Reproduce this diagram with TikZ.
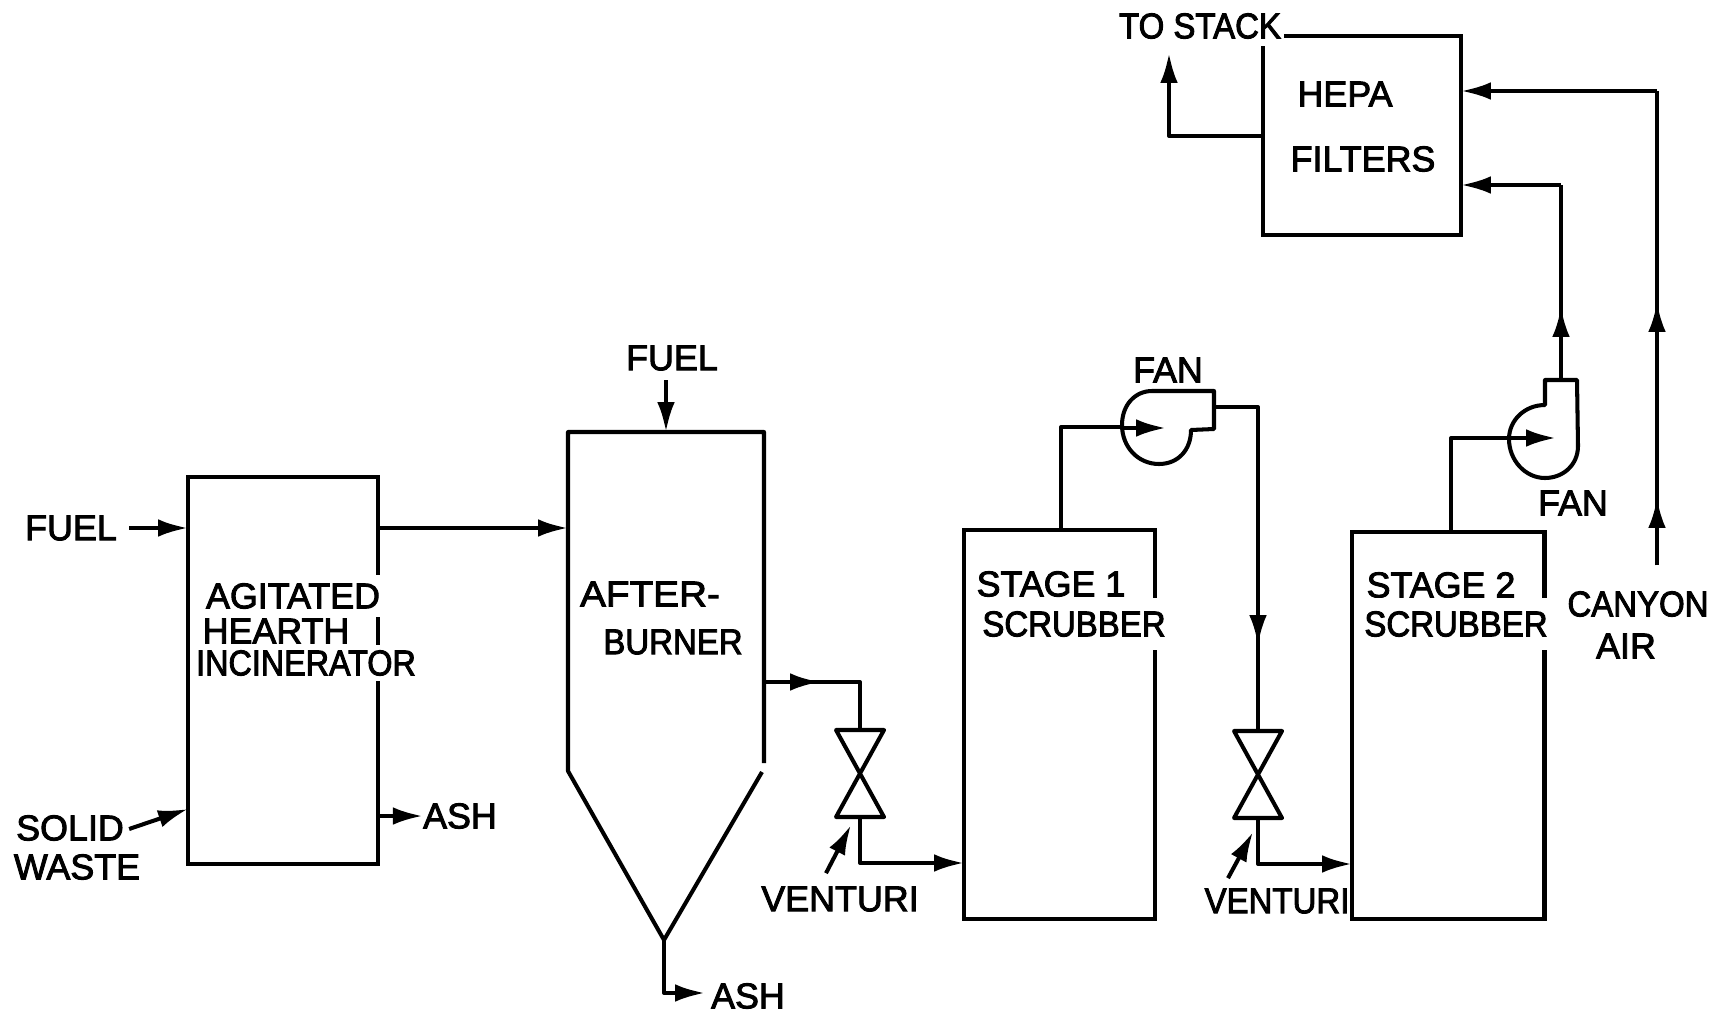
\documentclass[tikz,border=0pt]{standalone}
\usepackage{fontspec}
\setmainfont{Liberation Sans}[FakeBold=2.5]
\newfontfamily\narrowfont{Liberation Sans}[FakeBold=2.5,FakeStretch=0.92]
\newfontfamily\widefont{Liberation Sans}[FakeBold=2.5,FakeStretch=1.08]
\usetikzlibrary{arrows.meta}
\tikzset{
  line/.style={line width=2.3pt,line join=round},
  flow/.style={line,-{Latex[length=17pt,width=10pt]}},
  unit/.style={draw,line width=2.3pt,inner sep=0pt,outer sep=0pt,anchor=north west},
  lbl/.style={font=\fontsize{20.4}{22}\selectfont,inner sep=0pt},
  narrowlbl/.style={font=\fontsize{20.4}{22}\narrowfont,inner sep=0pt},
  gaplbl/.style={narrowlbl,fill=white,inner xsep=1.5pt,inner ysep=7.4pt}
}
\begin{document}
\begin{tikzpicture}[x=0.02cm,y=-0.02cm]
  \useasboundingbox (0,0) rectangle (1721,1014);
  % units
  \node[unit,minimum width=3.81cm,minimum height=7.74cm] (hearth) at (188,477) {};
  \node[unit,minimum width=3.96cm,minimum height=3.98cm] (hepa) at (1263,36) {};
  \node[unit,minimum width=3.83cm,minimum height=7.78cm] (stageA) at (964,530) {};
  \node[unit,minimum width=3.85cm,minimum height=7.74cm] (stageB) at (1352,532) {};
  \coordinate (burnerNW) at (568,432);
  \coordinate (burnerNE) at (764,432);
  \coordinate (burnerSW) at (568,771);
  \coordinate (burnerSE) at (764,763);
  \coordinate (hopperE) at (762,772);
  \coordinate (hopperEnd) at (664,940);
  \draw[line] (burnerSE) -- (burnerNE) -- (burnerNW) -- (burnerSW) -- (hopperEnd) -- (hopperE);
  % fans
  \draw[line] (1152,391) coordinate (fanA) -- (1214,391) -- (1214,429) coordinate (fanAout) -- (1191,430)
    .. controls (1191,450) and (1178,464) .. (1159,464)
    .. controls (1138,464) and (1122,447) .. (1122,425)
    .. controls (1122,405) and (1135,391) .. (1152,391) -- cycle;
  \draw[line] (1545,380) coordinate (fanBout) -- (1577,380) -- (1578,446)
    .. controls (1578,465) and (1563,478) .. (1545,478)
    .. controls (1525,478) and (1509,460) .. (1509,439)
    .. controls (1509,420) and (1525,405) .. (1545,405) -- cycle;
  % venturis
  \foreach \name/\vx/\vy in {ventA/860/730,ventB/1258/731} {
    \coordinate (\name top) at (\vx,\vy);
    \coordinate (\name bot) at (\vx,\vy+87);
    \draw[line] (\vx-24,\vy) -- (\vx+24,\vy) -- (\vx-24,\vy+87) -- (\vx+24,\vy+87) -- cycle;
  }
  % labels
  \node[lbl] (fuelA) at (71,528) {FUEL};
  \node[lbl] (fuelB) at (672,358) {FUEL};
  \node[lbl] (solid) at (70,828) {SOLID};
  \node[lbl] at (77,867) {WASTE};
  \node[lbl] (ashA) at (460,816) {ASH};
  \node[lbl] (ashB) at (748,996) {ASH};
  \node[gaplbl,inner ysep=3pt] at (306,663) {\scalebox{0.98}[1]{INCINERATOR}};
  \node[lbl,fill=white,inner xsep=1.5pt,inner ysep=4.5pt] at (293,596) {AGITATED};
  \node[lbl] at (276,631) {HEARTH};
  \node[lbl,font=\fontsize{20.4}{22}\widefont] at (650,594) {AFTER-};
  \node[narrowlbl] at (673,642) {BURNER};
  \node[lbl] (ventAlbl) at (840,899) {VENTURI};
  \node[narrowlbl] (ventBlbl) at (1277,901) {VENTURI};
  \node[lbl] at (1051,584) {STAGE 1};
  \node[gaplbl] at (1074,624) {SCRUBBER};
  \node[lbl] at (1441,585) {STAGE 2};
  \node[gaplbl] at (1456,624) {SCRUBBER};
  \node[lbl] at (1168,370) {FAN};
  \node[lbl] at (1573,503) {FAN};
  \node[lbl] at (1345,94) {HEPA};
  \node[lbl] at (1363,159) {FILTERS};
  \node[gaplbl,inner xsep=2pt,inner ysep=4pt] (stack) at (1200,26) {TO STACK};
  \node[narrowlbl] at (1638,604) {CANYON};
  \node[lbl] at (1626,646) {AIR};
  % connectors
  \draw[flow,shorten <=7pt] (fuelA.east) -- (fuelA.east -| hearth.west);
  \draw[flow] (solid.east) ++(5,1) -- (188,809);
  \draw[flow] (hearth.east |- fuelA.east) -- (fuelA.east -| burnerNW);
  \draw[flow] (hearth.east |- ashA.west) -- (ashA.west);
  \draw[flow] (666,380) coordinate (fuelBend) -- (fuelBend |- burnerNW);
  \draw[line] (hopperEnd) -- (664,993) coordinate (ashBturn) -- (680,993);
  \draw[flow] (ashBturn) -- (705,993);
  % afterburner to stage 1
  \coordinate (burnerOut) at (764,682);
  \draw[flow] (burnerOut) -- (820,682);
  \draw[line] (burnerOut) -- (ventAtop |- burnerOut) -- (ventAtop);
  \draw[flow] (ventAbot) |- (stageA.west |- 0,863);
  \draw[flow] (ventAlbl.north) ++(-14,-13) -- (851,825);
  % stage 1 to stage 2
  \draw[line] (1061,530) -- (1061,427) -- (1122,427);
  \draw[flow] (1061,428) ++(61,0) -- (1166,428);
  \draw[line] (1214,407) -- (ventBtop |- 0,407) -- (ventBtop);
  \draw[flow] (ventBtop |- 0,407) -- (ventBtop |- 0,645);
  \draw[flow] (ventBbot) |- (stageB.west |- 0,864);
  \draw[flow] (ventBlbl.north) ++(-49,-10) -- (1253,832);
  % stage 2 to filters
  \draw[line] (1451,532) -- (1451,438) -- (1509,438);
  \draw[flow] (1509,438) -- (1556,438);
  \draw[line] (1561,380) -- (1561,185);
  \draw[flow] (1561,380) -- (1561,307);
  \draw[flow] (1561,185) -- (hepa.east |- 0,185);
  % canyon air
  \coordinate (canyonIn) at (1657,565);
  \coordinate (canyonTurn) at (1657,91);
  \draw[flow] (canyonIn) -- (1657,498);
  \draw[flow] (canyonIn) -- (1657,302);
  \draw[line] (canyonIn) -- (canyonTurn);
  \draw[flow] (canyonTurn) -- (hepa.east |- canyonTurn);
  % stack
  \draw[flow] (hepa.west |- 0,136) -- (1169,136) -- (1169,53);
\end{tikzpicture}
\end{document}
